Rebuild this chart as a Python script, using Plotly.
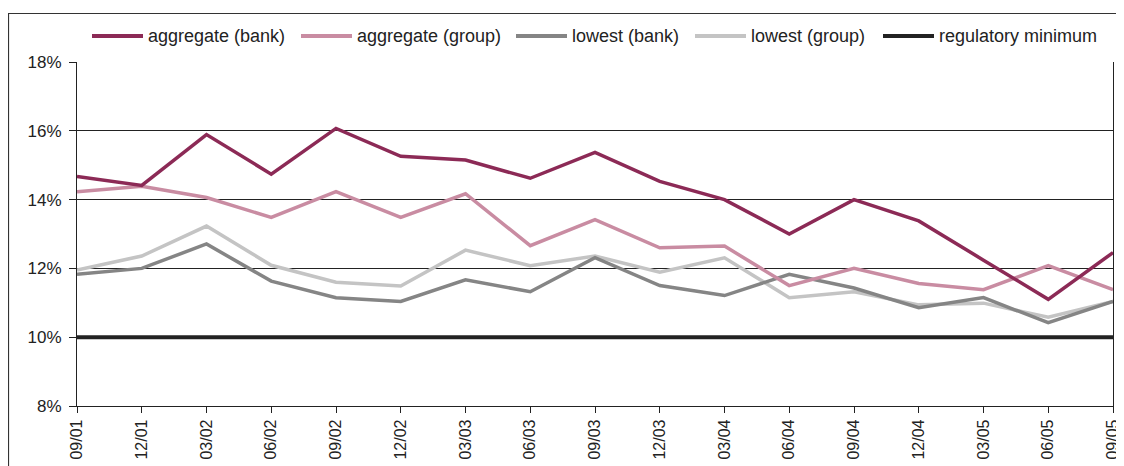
import plotly.graph_objects as go

categories = ["09/01", "12/01", "03/02", "06/02", "09/02", "12/02", "03/03", "06/03", "09/03",
              "12/03", "03/04", "06/04", "09/04", "12/04", "03/05", "06/05", "09/05"]
aggregate_bank = [14.67, 14.41, 15.89, 14.74, 16.07, 15.26, 15.15, 14.62, 15.37,
                  14.53, 14.0, 13.0, 14.0, 13.38, 12.24, 11.1, 12.46]
aggregate_group = [14.23, 14.39, 14.06, 13.48, 14.23, 13.48, 14.17, 12.66, 13.42,
                   12.6, 12.65, 11.5, 12.0, 11.56, 11.38, 12.08, 11.38]
lowest_bank = [11.83, 12.0, 12.71, 11.63, 11.15, 11.04, 11.67, 11.32, 12.31,
               11.5, 11.21, 11.83, 11.43, 10.86, 11.15, 10.42, 11.04]
lowest_group = [11.95, 12.36, 13.23, 12.09, 11.6, 11.49, 12.53, 12.08, 12.36,
                11.89, 12.31, 11.15, 11.32, 10.94, 10.99, 10.58, 11.04]
regulatory_minimum = [10.0] * len(categories)
y_ticks = [8, 10, 12, 14, 16, 18]

series = [
    ("aggregate (bank)", aggregate_bank, "#8c2a56", 3.5),
    ("aggregate (group)", aggregate_group, "#c98ca2", 3.5),
    ("lowest (bank)", lowest_bank, "#858585", 3.5),
    ("lowest (group)", lowest_group, "#c4c4c4", 3.5),
    ("regulatory minimum", regulatory_minimum, "#222222", 4),
]

# page body has an 8px margin; work in screen pixels and convert
OFF = 8
W, H = 1124 - OFF, 466 - OFF
PL, PR, PT, PB = 77, 1113, 62, 406   # plot area in screen pixels
ML, MR, MT, MB = PL - OFF, (W + OFF) - PR, PT - OFF, (H + OFF) - PB
FONT = "Arial, Liberation Sans, sans-serif"

fig = go.Figure()
for name, vals, color, width in [series[4], series[3], series[2], series[1], series[0]]:
    fig.add_trace(go.Scatter(x=list(range(len(categories))), y=vals, mode="lines", name=name,
                             line=dict(color=color, width=width), showlegend=False))

pw = W - ML - MR
ph = H - MT - MB
def px_x(p):
    return (p - OFF - ML) / pw
def px_y(p):
    return 1 - (p - OFF - MT) / ph

# manual legend (screen pixel positions)
legend_x = [92, 301, 516, 695, 883]
legend_y = 36
for (name, vals, color, width), lx in zip(series, legend_x):
    fig.add_shape(type="line", xref="paper", yref="paper",
                  x0=px_x(lx), x1=px_x(lx + 51), y0=px_y(legend_y), y1=px_y(legend_y),
                  line=dict(color=color, width=4))
    fig.add_annotation(xref="paper", yref="paper", x=px_x(lx + 54), y=px_y(legend_y),
                       text=name, showarrow=False, xanchor="left", yanchor="middle",
                       font=dict(family=FONT, size=18, color="#222222"))

# outer frame
fig.add_shape(type="rect", xref="paper", yref="paper", layer="below",
              x0=px_x(8.5), x1=px_x(1150), y0=px_y(13.5), y1=px_y(490),
              line=dict(color="#333333", width=1.2), fillcolor="rgba(0,0,0,0)")

fig.update_layout(
    width=W, height=H,
    margin=dict(l=ML, r=MR, t=MT, b=MB, autoexpand=False),
    paper_bgcolor="white", plot_bgcolor="white",
    showlegend=False,
    font=dict(family=FONT, size=17, color="#222222"),
)
fig.update_xaxes(
    range=[0, len(categories) - 1], tickmode="array",
    tickvals=list(range(len(categories))), ticktext=categories,
    tickangle=-90, ticks="outside", ticklen=6, tickcolor="#222222",
    showline=True, linecolor="#222222", linewidth=1.2, mirror=False,
    showgrid=False, automargin=False, tickfont=dict(size=16),
)
fig.update_yaxes(
    range=[8, 18], tickmode="array", tickvals=y_ticks,
    ticktext=[f"{v}%" for v in y_ticks],
    ticks="outside", ticklen=7, tickcolor="#222222",
    showline=True, linecolor="#222222", linewidth=1.2, mirror=True,
    showgrid=True, gridcolor="#222222", gridwidth=1, zeroline=False,
    automargin=False, tickfont=dict(size=17), ticklabelstandoff=4,
)

fig.write_html("out.html")
